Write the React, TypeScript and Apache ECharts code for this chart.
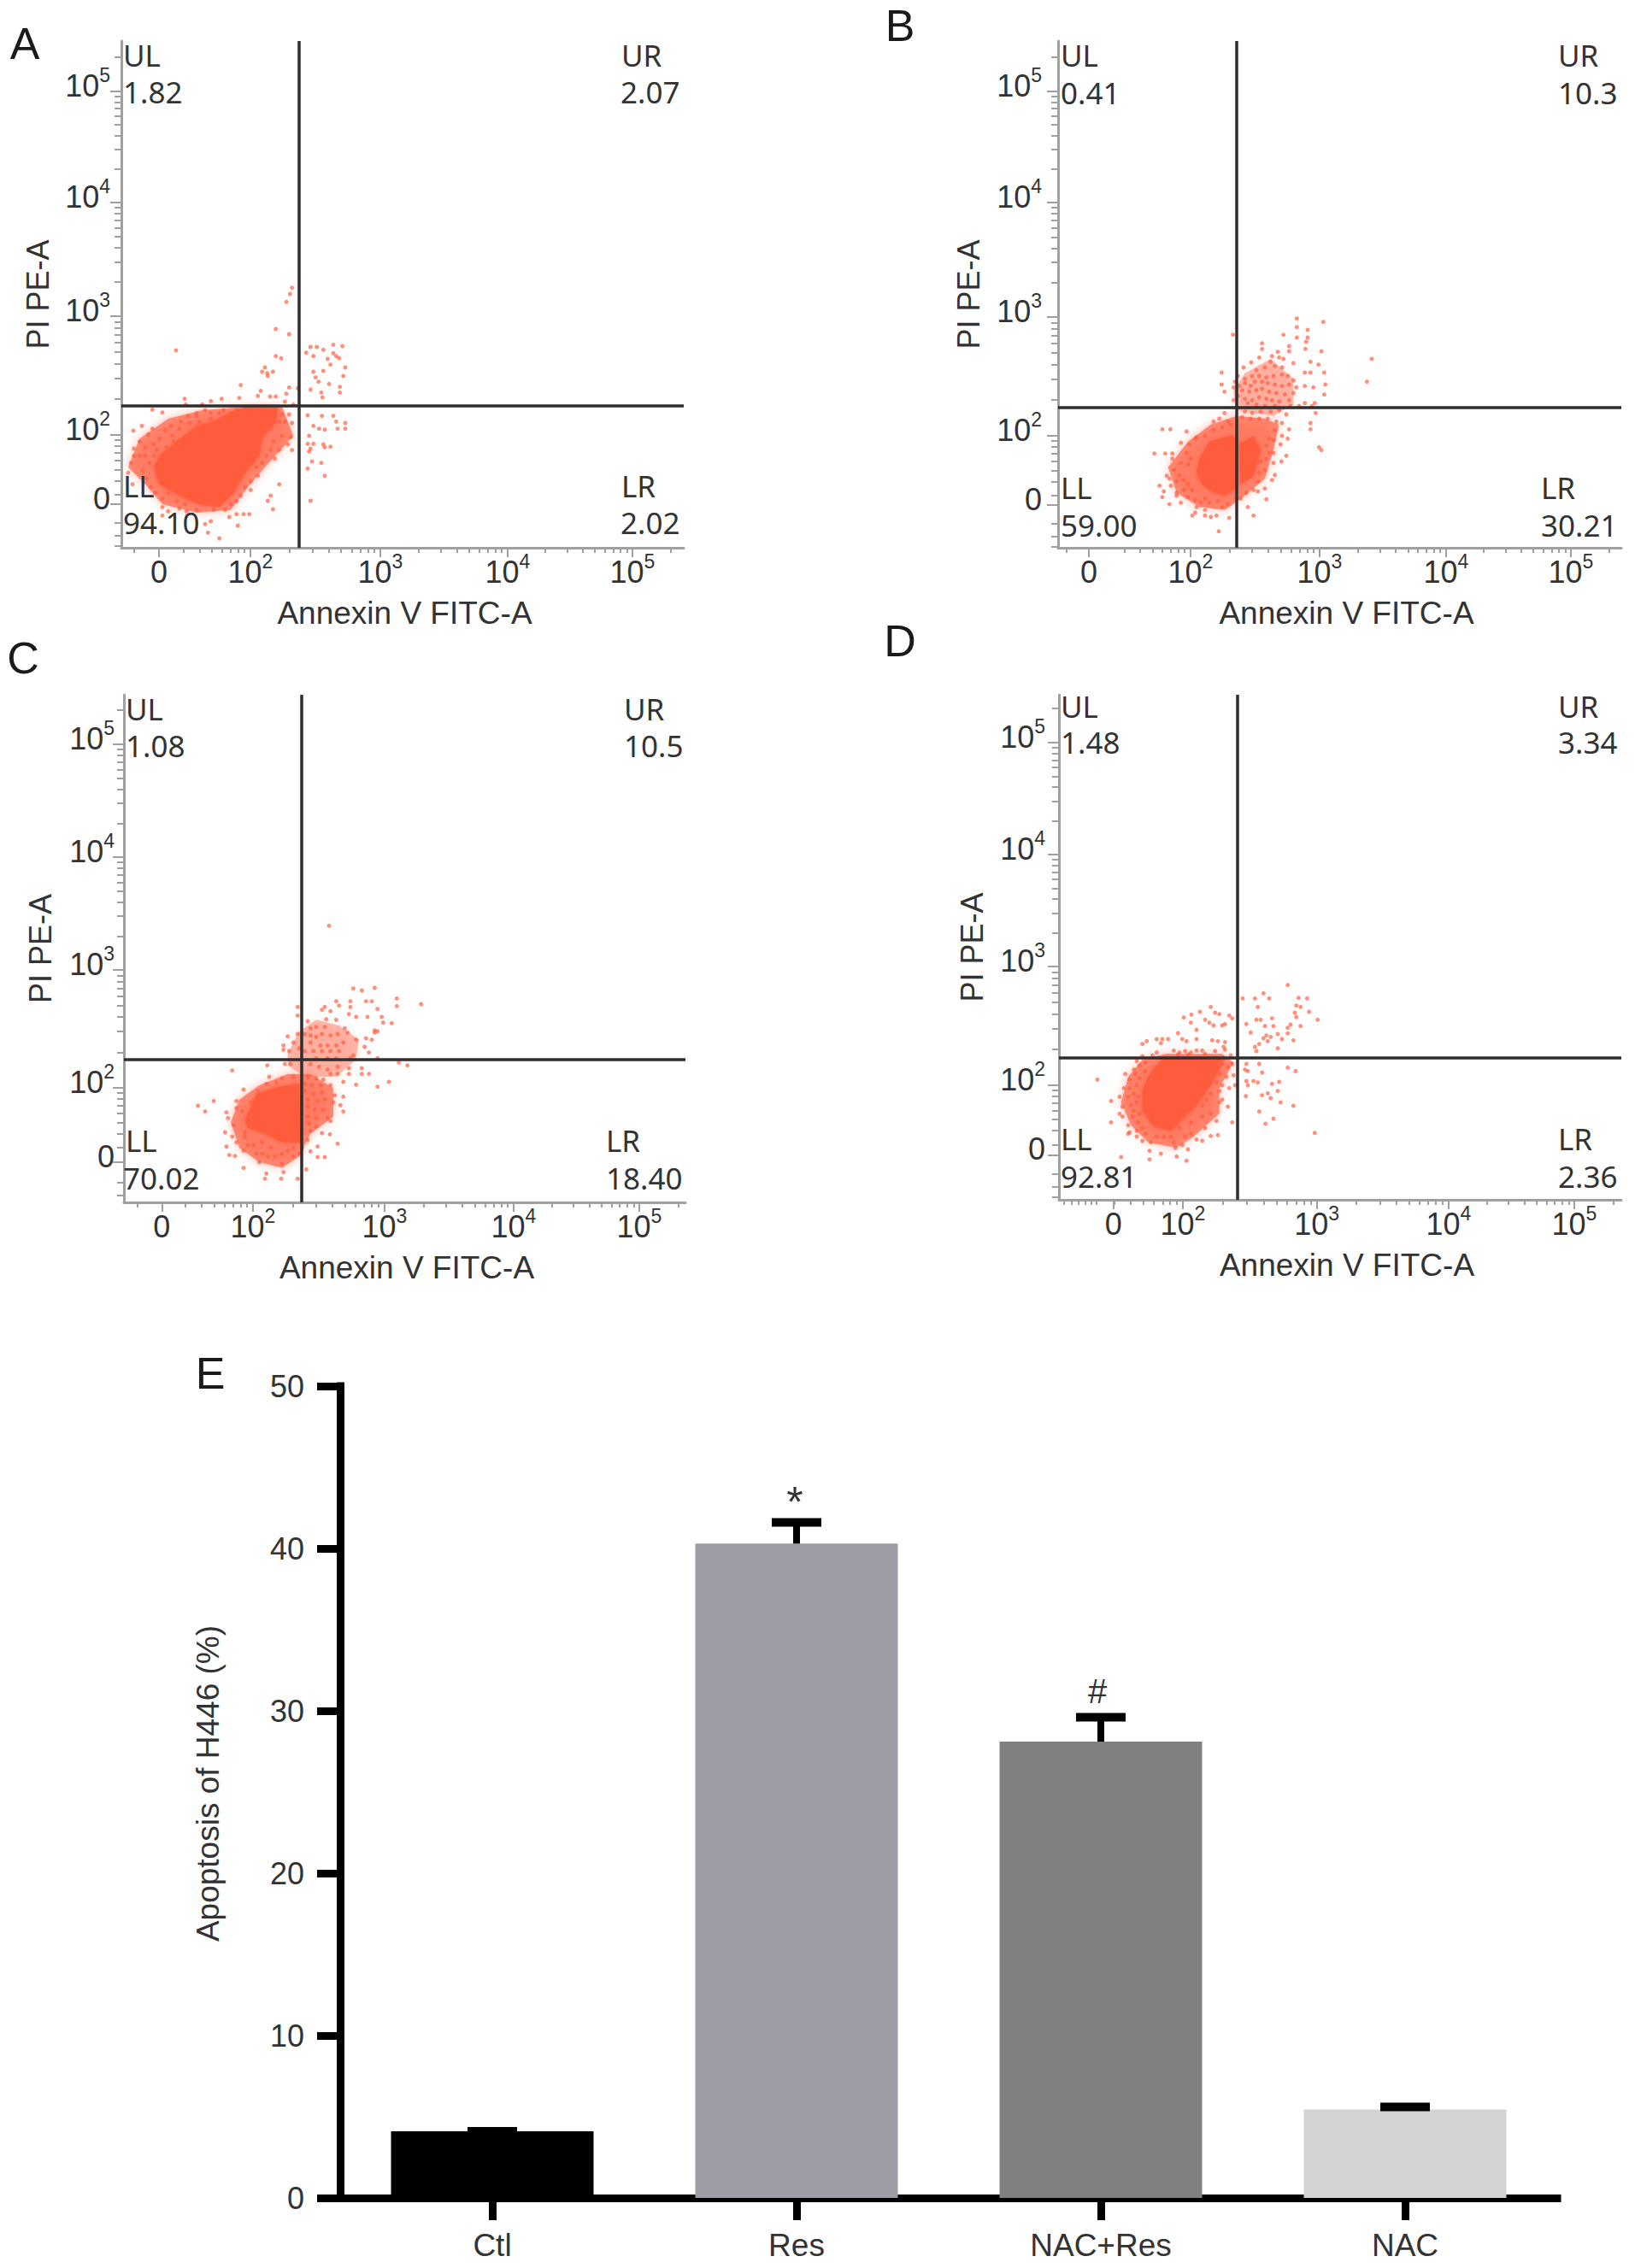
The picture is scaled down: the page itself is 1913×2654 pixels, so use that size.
import React, { useEffect, useRef } from "react";
import * as echarts from "echarts";

// Flow cytometry: values are display channels (position on the biexponential scale).
const tickLabels = ["0", "10{sup|2}", "10{sup|3}", "10{sup|4}", "10{sup|5}"];
const quadrantNames = ["UL", "UR", "LL", "LR"];

const valuesA = ["1.82", "2.07", "94.10", "2.02"];
const valuesB = ["0.41", "10.3", "59.00", "30.21"];
const valuesC = ["1.08", "10.5", "70.02", "18.40"];
const valuesD = ["1.48", "3.34", "92.81", "2.36"];

const xTicksA = [168, 489, 945, 1392, 1830];
const yTicksA = [190, 433, 850, 1249, 1639];
const gateA = [660, 535];
const xTicksB = [-78, 279, 732, 1176, 1614];
const yTicksB = [247, 490, 907, 1309, 1699];
const gateB = [441, 590];
const xTicksC = [178, 498, 960, 1413, 1854];
const yTicksC = [100, 361, 775, 1171, 1567];
const gateC = [668, 460];
const xTicksD = [218, 462, 932, 1395, 1836];
const yTicksD = [335, 580, 997, 1390, 1783];
const gateD = [652, 678];

const coreA = [[[470,530],[585,530],[580,480],[530,420],[520,360],[470,300],[430,230],[380,180],[310,190],[240,220],[170,260],[150,320],[170,360],[230,410],[300,465],[360,480],[420,515]]];
const coreB = [[[345,470],[420,490],[445,480],[445,310],[400,280],[350,295],[320,320],[300,360],[310,410]],[[450,460],[500,490],[525,440],[500,350],[455,320]]];
const coreC = [[[510,340],[590,365],[660,375],[665,170],[600,170],[540,200],[480,220],[470,250],[490,290]]];
const coreD = [[[395,678],[610,678],[590,640],[560,580],[510,510],[460,460],[420,420],[360,435],[320,490],[320,560],[340,610],[370,650]]];

const haloA = [[[60,320],[100,420],[200,490],[320,520],[470,532],[600,532],[640,430],[540,320],[480,250],[420,170],[300,160],[180,190],[120,260]]];
const haloB = [[[200,380],[270,470],[350,530],[440,560],[540,550],[590,530],[570,440],[540,340],[470,280],[400,230],[310,240],[230,290]],[[430,650],[470,710],[560,760],[640,690],[640,600],[570,560],[440,580]]];
const haloC = [[[420,240],[450,320],[520,370],[620,410],[700,410],[780,360],[780,260],[700,200],[660,120],[600,80],[520,100],[450,150]],[[620,480],[660,560],[720,600],[800,580],[870,530],[860,460],[790,400],[680,400],[620,440]]];
const haloD = [[[245,520],[270,610],[320,670],[400,690],[600,690],[640,660],[590,570],[590,480],[500,400],[440,360],[340,380],[280,440]]];

const dotsA = [[635,950],[628,928],[615,900],[578,805],[625,787],[228,730],[578,710],[597,702],[540,670],[530,655],[548,650],[568,655],[550,640],[455,608],[525,588],[515,570],[558,568],[578,568],[625,600],[655,597],[615,578],[610,550],[450,563],[388,560],[258,560],[350,552],[262,540],[320,540],[640,540],
[685,722],[700,742],[722,742],[745,732],[780,750],[780,720],[790,710],[812,745],[800,703],[710,710],[760,700],[770,680],[822,670],[710,655],[745,658],[815,640],[718,635],[728,620],[765,612],[700,592],[738,582],[742,565],[803,602],[803,582],
[690,502],[740,500],[780,500],[790,480],[710,465],[730,455],[750,452],[795,455],[822,475],[822,455],[695,430],[690,402],[710,402],[700,385],[745,400],[770,392],[750,390],[695,375],[705,340],[738,335],[690,315],[750,290],[700,202],
[600,505],[625,505],[590,480],[635,475],[610,480],[560,455],[600,430],[630,425],[620,400],[635,380],[570,410],[590,380],[560,380],[545,360],[575,350],[530,335],[510,320],[515,290],[490,270],[470,250],[590,260],[560,220],[550,202],[568,172],[490,240],[455,220],[440,200],[420,190],
[180,180],[200,165],[180,150],[265,165],[240,175],[300,170],[350,130],[330,120],[340,90],[380,70],[445,115],[440,155],[465,155],[485,155],[415,145],[400,170],[360,170],
[78,448],[108,465],[145,455],[130,435],[100,410],[80,385],[80,360],[70,335],[100,360],[120,390],[150,400],[170,420],[190,450],[210,465],[245,480],[270,500],[300,510],[330,520],[145,522],[180,512],[60,300],[75,260],[120,360],[135,335],[110,310],[125,280],[140,250],[155,230],[180,210],[200,230],[230,200],[260,190],[150,360],[160,380],[195,390],[215,430],[240,455],[275,475],[310,480],[350,490],[380,510],[410,485],[440,520],[395,520],[350,510],[220,410],[300,500]];

const dotsB = [[652,902],[745,890],[652,872],[428,845],[605,845],[690,862],[652,835],[690,835],[685,820],[530,815],[682,795],[625,805],[625,787],[530,795],[738,787],[915,760],[700,750],[728,740],[898,680],[680,712],[700,712],[748,712],[752,670],[710,660],[680,665],[748,635],[388,712],[388,670],[398,645],
[590,765],[565,770],[585,785],[605,760],[560,750],[520,765],[492,748],[465,730],[510,720],[540,730],[575,735],[600,730],[640,745],[620,700],[640,685],[600,705],[570,700],[545,695],[520,700],[495,700],[470,690],[445,700],[435,680],[430,660],[450,665],[470,675],[490,665],[505,680],[530,680],[550,675],[575,670],[600,665],[625,670],[650,660],[640,640],[610,635],[580,640],[555,645],[530,655],[510,650],[485,645],[460,650],[445,630],[430,615],[470,620],[495,615],[520,625],[545,620],[565,615],[590,610],[625,615],[680,605],[715,605],[705,595],[480,605],[510,600],[575,595],[540,595],[630,595],[660,595],
[398,570],[470,575],[495,570],[525,575],[560,575],[590,580],[615,565],[718,570],[380,550],[360,540],[410,540],[460,555],[490,550],[520,550],[550,550],[580,540],[600,535],[625,513],[700,535],[700,513],[180,513],[208,513],[265,505],[330,490],[300,485],[360,510],[390,520],[420,530],[575,510],[600,490],[620,480],[555,480],[545,455],[570,475],[595,460],[555,430],[570,430],[615,420],[598,400],[570,395],[545,410],[525,400],[540,370],[520,360],[575,352],[565,335],[515,330],[540,305],[515,295],[545,267],[480,240],[500,210],[730,450],[738,440],[500,300],[475,290],[455,270],
[152,428],[190,428],[215,428],[245,465],[275,460],[295,480],[265,430],[280,410],[215,410],[245,395],[270,390],[220,370],[240,350],[195,350],[205,340],[170,315],[210,315],[230,330],[255,335],[270,320],[255,300],[285,300],[230,290],[185,295],[180,275],[230,280],[205,250],[245,255],[270,275],[295,265],[315,255],[330,270],[345,255],[330,230],[295,220],[285,210],[330,210],[350,205],[370,210],[415,202],[378,155],[390,240],[410,250],[440,270],[375,260],[300,240]];

const dotsC = [[765,930],[850,710],[880,703],[925,712],[1003,675],[1003,648],[1088,655],[895,665],[915,665],[935,638],[950,610],[985,588],[955,590],[925,563],[935,560],[900,610],[790,665],[800,650],[840,665],[840,645],[750,645],[740,635],[770,630],[655,645],[655,615],[835,620],[860,610],[790,600],[755,602],[690,595],[720,575],[750,575],[700,570],[820,570],[830,555],[795,550],[860,530],[895,535],[925,555],[915,530],[620,542],[605,510],[605,495],[640,520],[655,550],[680,550],[700,545],[720,540],[740,550],[770,545],[815,520],[790,510],[760,510],[735,510],[700,520],[660,500],[625,490],[680,490],[710,490],[740,490],[770,490],[800,490],[850,475],[890,505],[905,485],[935,465],[840,465],[790,465],[760,465],[720,465],[610,445],[630,445],[548,440],[425,422],[1010,450],[1040,440],[700,445],[730,435],[760,425],[795,435],[770,410],[795,410],[835,430],[880,430],[835,410],[880,410],[905,410],[860,372],[935,365],[975,382],[815,382],
[555,400],[600,395],[640,400],[690,400],[720,395],[745,390],[680,375],[705,370],[735,370],[770,370],[680,350],[710,340],[740,345],[785,335],[815,330],[690,320],[725,315],[750,320],[780,310],[690,295],[715,285],[745,285],[805,300],[815,278],[690,260],[720,255],[760,255],[770,245],[695,235],[720,225],[670,210],[700,210],[740,202],[768,198],[795,165],[690,178],[725,155],[670,150],[700,138],[725,118],[750,118],[685,75],[655,42],
[465,355],[440,315],[360,315],[305,298],[330,278],[405,275],[410,255],[440,290],[460,280],[490,310],[515,350],[545,375],[580,380],[430,230],[400,205],[425,190],[405,155],[440,170],[470,190],[465,140],[415,125],[435,122],[480,160],[510,130],[530,130],[550,120],[575,120],[600,130],[620,140],[640,150],[465,80],[520,100],[545,60],[600,95],[605,65],[540,42],[597,42],[640,120],[660,130],[530,170],[500,160],[560,150],[470,205]];

const dotsD = [[830,932],[745,903],[715,885],[672,885],[765,885],[898,885],[868,887],[725,855],[860,860],[875,855],[855,835],[905,838],[860,820],[935,810],[720,810],[735,810],[775,815],[685,795],[780,788],[750,788],[840,793],[875,788],[830,782],[700,765],[830,762],[755,755],[745,745],[770,750],[760,735],[810,742],[850,738],[795,760],[715,715],[730,725],[795,710],[720,700],[560,855],[522,838],[575,835],[590,830],[625,825],[492,828],[465,818],[635,815],[490,800],[540,810],[555,800],[610,795],[570,790],[600,790],[510,775],[445,763],[460,742],[475,735],[510,742],[565,738],[585,735],[610,732],[370,742],[390,742],[410,742],[335,735],[320,725],[385,728],[610,705],[575,700],[605,715],
[430,702],[450,695],[470,700],[490,695],[510,702],[530,702],[370,695],[355,685],[320,682],[300,665],[445,688],[480,688],[540,690],[630,685],
[600,655],[635,655],[620,645],[590,620],[615,610],[640,615],[645,580],[600,580],[580,590],[590,560],[625,570],[560,550],[600,530],[620,505],[590,520],[545,530],[530,510],[560,480],[530,470],[540,430],[580,455],[635,450],[585,405],[560,402],[530,385],[490,410],[510,390],[470,400],[480,355],[460,370],[435,360],[430,380],[475,315],[440,330],[385,340],[345,350],[345,320],[245,328],[350,380],[320,385],[370,400],[300,400],[395,400],[420,400],[450,430],[490,450],[300,420],[330,410],[270,410],
[685,655],[730,655],[680,635],[690,630],[740,625],[830,642],[858,630],[685,595],[690,580],[710,595],[725,590],[775,585],[800,592],[760,552],[795,560],[740,545],[770,535],[805,520],[850,508],[683,542],[730,488],[780,463],[752,445],[925,413],
[162,600],[260,620],[290,635],[310,650],[330,660],[275,600],[300,580],[255,570],[290,550],[270,540],[240,540],[210,525],[300,520],[290,490],[250,505],[240,480],[285,470],[210,450],[270,440],[275,415],[305,450],[320,430],[310,605],[330,630],[305,540],[280,510],[310,480],[250,470],[295,620],[275,570]];

const categories = ["Ctl", "Res", "NAC+Res", "NAC"];
const apoptosis = [4.1, 40.3, 28.1, 5.45];
const errorTop = [4.1, 41.6, 29.6, 5.6];
const significance = ["", "*", "#", ""];
const barColors = ["#000000", "#9e9da5", "#808080", "#d3d3d3"];
const yTitle = "Apoptosis of H446 (%)";

const minorFactors = [2, 3, 4, 5, 6, 7, 8, 9];
const TEXT = "#333333";
const SANS = "Liberation Sans";
const haloFills = ["rgba(255,92,62,0.66)", "rgba(255,92,62,0.4)"];

function minorTicks(t: number[], below: number[], above: boolean) {
  const out: number[] = [];
  const d = (t[4] - t[1]) / 3;
  minorFactors.forEach((k) => {
    const f = Math.log10(k);
    if (k >= 3) out.push(t[1] - d * (1 - f));
    out.push(t[1] + (t[2] - t[1]) * f, t[2] + (t[3] - t[2]) * f, t[3] + (t[4] - t[3]) * f);
  });
  const span = t[1] - t[0];
  below.forEach((b) => out.push(t[0] - span * b));
  if (above) out.push(t[4] + d * Math.log10(2));
  return out;
}

const panels = [
  { left: 142, top: 48, width: 658, height: 593, xMin: 36, xMax: 2010, yMin: 37, yMax: 1816, xT: xTicksA, yT: yTicksA, gate: gateA, core: coreA, halo: haloA, dots: dotsA, xNeg: [0.27], yNeg: [0.27, 0.45, 0.6], namePad: 5, yGap: 80, yMargin: 13 },
  { left: 1238, top: 48, width: 659, height: 593, xMin: -186, xMax: 1791, yMin: 97, yMax: 1876, xT: xTicksB, yT: yTicksB, gate: gateB, core: coreB, halo: haloB, dots: dotsB, xNeg: [0.22], yNeg: [0.27, 0.45, 0.6], namePad: 16, yGap: 87, yMargin: 19 },
  { left: 145, top: 813, width: 657, height: 594, xMin: 45, xMax: 2016, yMin: -41, yMax: 1741, xT: xTicksC, yT: yTicksC, gate: gateC, core: coreC, halo: haloC, dots: dotsC, xNeg: [0.27], yNeg: [0.27, 0.45, 0.6], namePad: 5, yGap: 80, yMargin: 11 },
  { left: 1239, top: 813, width: 658, height: 591, xMin: 27, xMax: 2001, yMin: 178, yMax: 1951, xT: xTicksD, yT: yTicksD, gate: gateD, core: coreD, halo: haloD, dots: dotsD, xNeg: [0.24, 0.32, 0.4, 0.5, 0.6, 0.71], yNeg: [0.27, 0.45, 0.6], namePad: 16, yGap: 84, yMargin: 16 },
];

const quadrantPlaces = [
  { vals: valuesA, names: [[144, 64], [727, 64], [144, 568], [727, 568]], nums: [[144, 107], [726, 107], [144, 611], [726, 611]] },
  { vals: valuesB, names: [[1241, 64], [1823, 64], [1241, 570], [1803, 570]], nums: [[1241, 108], [1823, 108], [1241, 614], [1803, 614]] },
  { vals: valuesC, names: [[147, 829], [730, 829], [147, 1334], [709, 1334]], nums: [[147, 872], [730, 872], [144, 1378], [709, 1378]] },
  { vals: valuesD, names: [[1241, 826], [1823, 826], [1241, 1332], [1823, 1332]], nums: [[1241, 868], [1823, 868], [1241, 1376], [1823, 1376]] },
];

const panelLetters: [string, number, number][] = [["A", 29, 51], ["B", 1053, 30], ["C", 27, 770], ["D", 1053, 750], ["E", 246, 1607]];

const axisGrey = "#a0a0a0";
const rich = {
  b: { fontSize: 36, lineHeight: 48, fontFamily: SANS, color: TEXT },
  sup: { fontSize: 23, lineHeight: 24, fontFamily: SANS, color: TEXT, verticalAlign: "top" },
};

function blobSeries(polys: number[][][], xIdx: number, yIdx: number, t: number[], t2: number[], fills: string[], blur: number, z: number) {
  return {
    type: "custom", xAxisIndex: xIdx, yAxisIndex: yIdx, coordinateSystem: "cartesian2d", silent: true, z,
    data: polys.map((_, k) => [t[1], t2[1], k]),
    renderItem: (params: any, api: any) => ({
      type: "polygon",
      shape: { points: polys[params.dataIndex].map((c) => api.coord(c)) },
      style: {
        fill: fills[params.dataIndex % fills.length],
        shadowBlur: blur,
        shadowColor: fills[params.dataIndex % fills.length],
      },
    }),
  };
}

function buildOption() {
  const grid: any[] = [];
  const xAxis: any[] = [];
  const yAxis: any[] = [];
  const series: any[] = [];
  const graphic: any[] = [];

  panels.forEach((p, i) => {
    grid.push({ left: p.left, top: p.top, width: p.width, height: p.height, containLabel: false });
    const fmt = (ticks: number[]) => (v: number) => {
      const k = ticks.indexOf(v);
      if (k < 0) return "";
      const s = tickLabels[k];
      return s.indexOf("{") >= 0 ? s.replace("10", "{b|10}") : "{b|" + s + "}";
    };
    const xIdx = xAxis.length;
    xAxis.push({
      type: "value", gridIndex: i, position: "bottom", min: p.xMin, max: p.xMax,
      name: "Annexin V FITC-A", nameLocation: "middle", nameGap: 58,
      nameTextStyle: { fontSize: 37, fontFamily: SANS, color: TEXT, padding: [0, 0, 0, p.namePad] },
      splitLine: { show: false },
      axisLine: { show: true, onZero: false, lineStyle: { color: axisGrey, width: 3 } },
      axisTick: { show: true, length: 11, lineStyle: { color: axisGrey, width: 2 }, customValues: p.xT },
      axisLabel: { show: true, margin: 4, customValues: p.xT, formatter: fmt(p.xT), rich },
    });
    xAxis.push({
      type: "value", gridIndex: i, position: "bottom", min: p.xMin, max: p.xMax,
      splitLine: { show: false }, axisLine: { show: false, onZero: false },
      axisLabel: { show: false },
      axisTick: { show: true, length: 6, lineStyle: { color: axisGrey, width: 2 }, customValues: minorTicks(p.xT, p.xNeg, true) },
    });
    const yIdx = yAxis.length;
    yAxis.push({
      type: "value", gridIndex: i, position: "left", min: p.yMin, max: p.yMax,
      name: "PI PE-A", nameLocation: "middle", nameGap: p.yGap, nameRotate: 90,
      nameTextStyle: { fontSize: 36, fontFamily: SANS, color: TEXT },
      splitLine: { show: false },
      axisLine: { show: true, onZero: false, lineStyle: { color: axisGrey, width: 3 } },
      axisTick: { show: true, length: 13, lineStyle: { color: axisGrey, width: 2 }, customValues: p.yT },
      axisLabel: { show: true, margin: p.yMargin, padding: [0, 0, 14, 0], customValues: p.yT, formatter: fmt(p.yT), rich },
    });
    yAxis.push({
      type: "value", gridIndex: i, position: "left", min: p.yMin, max: p.yMax,
      splitLine: { show: false }, axisLine: { show: false, onZero: false },
      axisLabel: { show: false },
      axisTick: { show: true, length: 8, lineStyle: { color: axisGrey, width: 2 }, customValues: minorTicks(p.yT, p.yNeg, true) },
    });
    series.push(blobSeries(p.halo, xIdx, yIdx, p.xT, p.yT, haloFills, 12, 2));
    series.push(blobSeries(p.core, xIdx, yIdx, p.xT, p.yT, ["#ff5c3e"], 4, 2));
    series.push({
      type: "scatter", xAxisIndex: xIdx, yAxisIndex: yIdx, data: p.dots, symbol: "circle", symbolSize: 5,
      itemStyle: { color: "rgba(255,92,62,0.85)" }, silent: true, z: 3,
      markLine: {
        silent: true, symbol: "none", label: { show: false }, z: 5,
        lineStyle: { color: "#2e2e2e", width: 3.5, type: "solid" },
        data: [{ xAxis: p.gate[0] }, { yAxis: p.gate[1] }],
      },
    });
    const q = quadrantPlaces[i];
    quadrantNames.forEach((n, k) => {
      graphic.push({ type: "text", x: q.names[k][0], y: q.names[k][1], z: 20, style: { text: n, fontSize: 35, fontFamily: "Noto Sans", fill: TEXT, verticalAlign: "middle" } });
      graphic.push({ type: "text", x: q.nums[k][0], y: q.nums[k][1], z: 20, style: { text: q.vals[k], fontSize: 35, fontFamily: "Noto Sans", fill: TEXT, verticalAlign: "middle" } });
    });
  });

  panelLetters.forEach(([t, x, y]) => {
    graphic.push({ type: "text", x, y, style: { text: t, fontSize: 52, fontFamily: SANS, fill: "#1a1a1a", align: "center", verticalAlign: "middle" } });
  });

  const g = panels.length;
  grid.push({ left: 398, top: 1622, width: 1424, height: 950, containLabel: false });
  const bx = xAxis.length;
  xAxis.push({
    type: "category", gridIndex: g, data: categories, position: "bottom",
    axisLine: { show: true, onZero: false, lineStyle: { color: "#000", width: 9, cap: "square" } },
    axisTick: { show: true, alignWithLabel: true, length: 26, lineStyle: { color: "#000", width: 9 } },
    axisLabel: { fontSize: 37, fontFamily: SANS, color: TEXT, margin: 37, interval: 0 },
    splitLine: { show: false },
  });
  const by = yAxis.length;
  yAxis.push({
    type: "value", gridIndex: g, min: 0, max: 50, interval: 10, position: "left",
    name: yTitle, nameLocation: "middle", nameGap: 136, nameRotate: 90,
    nameTextStyle: { fontSize: 37, fontFamily: SANS, color: TEXT, padding: [0, 0, 0, 20] },
    splitLine: { show: false },
    axisLine: { show: true, onZero: false, lineStyle: { color: "#000", width: 9, cap: "square" } },
    axisTick: { show: true, length: 27, lineStyle: { color: "#000", width: 9 } },
    axisLabel: { fontSize: 36, fontFamily: SANS, color: TEXT, margin: 42 },
  });
  series.push({
    type: "bar", xAxisIndex: bx, yAxisIndex: by, barWidth: 237, z: 1, silent: true,
    data: apoptosis.map((v, i) => ({ value: v, itemStyle: { color: barColors[i] } })),
  });
  series.push({
    type: "custom", xAxisIndex: bx, yAxisIndex: by, coordinateSystem: "cartesian2d", silent: true, z: 4, clip: false,
    data: categories.map((c, i) => [i, apoptosis[i], errorTop[i]]),
    renderItem: (params: any, api: any) => {
      const i = api.value(0);
      const top = api.coord([i, api.value(2)]);
      const base = api.coord([i, api.value(1)]);
      const children: any[] = [
        { type: "rect", shape: { x: top[0] - 4, y: top[1], width: 8, height: Math.max(0, base[1] - top[1]) }, style: { fill: "#000" } },
        { type: "rect", shape: { x: top[0] - 29, y: top[1] - 5, width: 58, height: 10 }, style: { fill: "#000" } },
      ];
      const s = significance[params.dataIndex];
      if (s) {
        children.push({
          type: "text", x: top[0] - (s === "#" ? 4 : 2), y: top[1] - (s === "*" ? 24 : 31),
          style: { text: s, fontSize: s === "*" ? 50 : 40, fontFamily: SANS, fill: TEXT, align: "center", verticalAlign: "middle" },
        });
      }
      return { type: "group", children };
    },
  });

  return { animation: false, backgroundColor: "#ffffff", grid, xAxis, yAxis, series, graphic };
}

export default function App() {
  const ref = useRef<HTMLDivElement>(null);
  useEffect(() => {
    const chart = echarts.init(ref.current!, undefined, { renderer: "svg" });
    chart.setOption(buildOption() as any);
    return () => chart.dispose();
  }, []);
  return <div ref={ref} style={{ position: "absolute", left: 0, top: 0, width: 1913, height: 2654 }} />;
}
